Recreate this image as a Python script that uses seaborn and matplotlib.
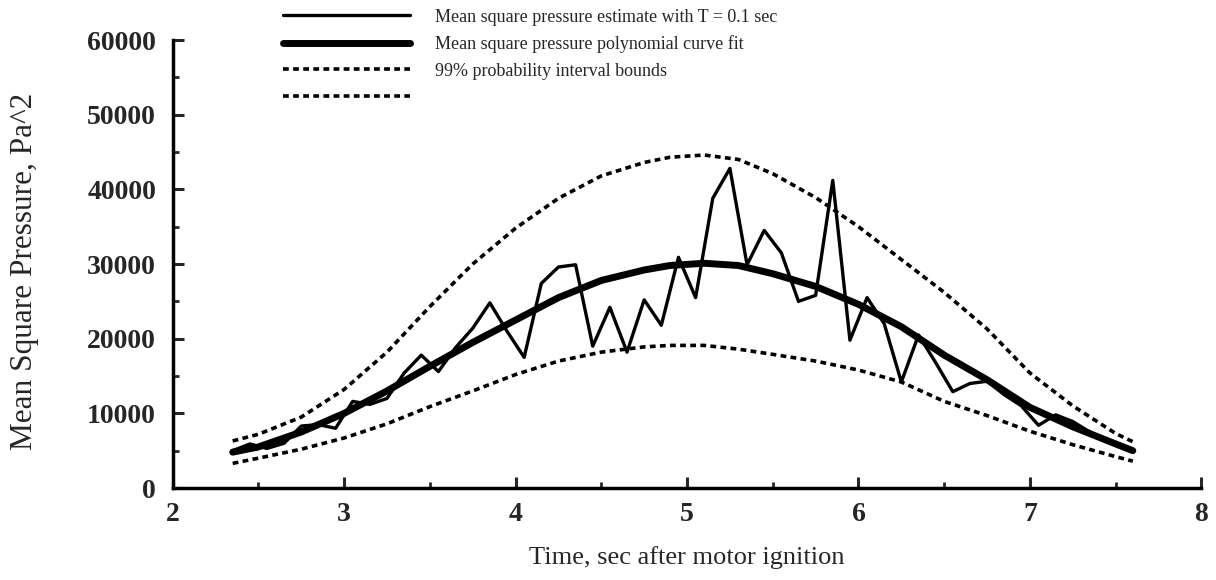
import numpy as np
import pandas as pd
import seaborn as sns
import matplotlib.pyplot as plt
from matplotlib.ticker import MultipleLocator

sns.set_theme(style="ticks")
plt.rcParams['font.family'] = ['Liberation Serif', 'DejaVu Serif']

# mean square estimate, T = 0.1 sec
t_est = [2.35, 2.45, 2.55, 2.65, 2.75, 2.85, 2.95, 3.05, 3.15, 3.25,
         3.35, 3.45, 3.55, 3.65, 3.75, 3.85, 3.95, 4.05, 4.15, 4.25,
         4.35, 4.45, 4.55, 4.65, 4.75, 4.85, 4.95, 5.05, 5.15, 5.25,
         5.35, 5.45, 5.55, 5.65, 5.75, 5.85, 5.95, 6.05, 6.15, 6.25,
         6.35, 6.45, 6.55, 6.65, 6.75, 6.85, 6.95, 7.05, 7.15, 7.25,
         7.35, 7.45, 7.55]
p_est = [5000, 5900, 5300, 6000, 8300, 8500, 8000, 11600, 11200, 12000,
         15400, 17800, 15600, 18800, 21400, 24800, 21000, 17500, 27400, 29600,
         29900, 19000, 24200, 18200, 25200, 21800, 30900, 25500, 38800, 42800,
         29900, 34500, 31500, 25000, 25800, 41200, 19800, 25500, 22000, 14200,
         20500, 16800, 12900, 14000, 14300, 12500, 11000, 8400, 9800, 8900,
         7500, 6300, 5300]

# polynomial fit and 99% bounds
t_fit = [2.35, 2.5, 2.75, 3.0, 3.25, 3.5, 3.75, 4.0, 4.25, 4.5, 4.75, 4.9,
         5.1, 5.3, 5.5, 5.75, 6.0, 6.25, 6.5, 6.75, 7.0, 7.25, 7.5, 7.6]
p_fit = [4800, 5500, 7500, 10000, 13000, 16300, 19500, 22500, 25500, 27800,
         29200, 29800, 30100, 29800, 28700, 27000, 24600, 21600, 17800, 14500,
         10800, 8200, 5900, 5000]
p_upper = [6300, 7200, 9500, 13200, 18200, 24300, 30000, 34800, 38800, 41800,
           43600, 44300, 44600, 44000, 42100, 38900, 35000, 30600, 26200, 21300,
           15400, 11000, 7300, 6200]
p_lower = [3300, 4000, 5200, 6700, 8600, 10900, 13000, 15200, 17000, 18200,
           18900, 19100, 19100, 18600, 17900, 17000, 15800, 14200, 11600, 9700,
           7600, 5800, 4200, 3600]

labels = ["Mean square pressure estimate with T = 0.1 sec",
          "Mean square pressure polynomial curve fit",
          "99% probability interval bounds",
          ""]

fig = plt.figure(figsize=(12.16, 5.8), dpi=100)
ax = fig.add_axes([0.142, 0.1586, 0.846, 0.7724])

dot = (0, (1.6, 1.2))
sns.lineplot(x=t_est, y=p_est, color="black", lw=2.4, ax=ax, legend=False)
sns.lineplot(x=t_fit, y=p_fit, color="black", lw=5, ax=ax, legend=False)
sns.lineplot(x=t_fit, y=p_upper, color="black", lw=2.6, linestyle=dot, ax=ax, legend=False)
sns.lineplot(x=t_fit, y=p_lower, color="black", lw=2.6, linestyle=dot, ax=ax, legend=False)

ax.set_xlim(2, 8)
ax.set_ylim(0, 60000)
ax.xaxis.set_major_locator(MultipleLocator(1))
ax.xaxis.set_minor_locator(MultipleLocator(0.5))
ax.yaxis.set_major_locator(MultipleLocator(10000))
ax.yaxis.set_minor_locator(MultipleLocator(5000))
ax.tick_params(which="major", direction="in", length=8, width=2.2, labelsize=20, pad=10)
ax.tick_params(axis="y", which="major", pad=12)
ax.tick_params(which="minor", direction="in", length=4.5, width=2.0)
for lab in ax.get_xticklabels() + ax.get_yticklabels():
    lab.set_fontweight("bold")

sns.despine(ax=ax)
for s in ["left", "bottom"]:
    ax.spines[s].set_linewidth(2.5)
    ax.spines[s].set_color("black")

ax.set_xlabel("Time, sec after motor ignition", fontsize=19, labelpad=14)
ax.set_ylabel("Mean Square Pressure, Pa^2", fontsize=22.5)
ax.yaxis.set_label_coords(-0.130, 0.484)

leg = ax.legend(ax.lines, labels, loc="upper left", bbox_to_anchor=(0.233, 0.985),
                bbox_transform=fig.transFigure, frameon=False, fontsize=13,
                handlelength=7, handletextpad=1.4, labelspacing=0.53,
                borderpad=0, borderaxespad=0)

fig.savefig("out.png", dpi=100, facecolor="white")
